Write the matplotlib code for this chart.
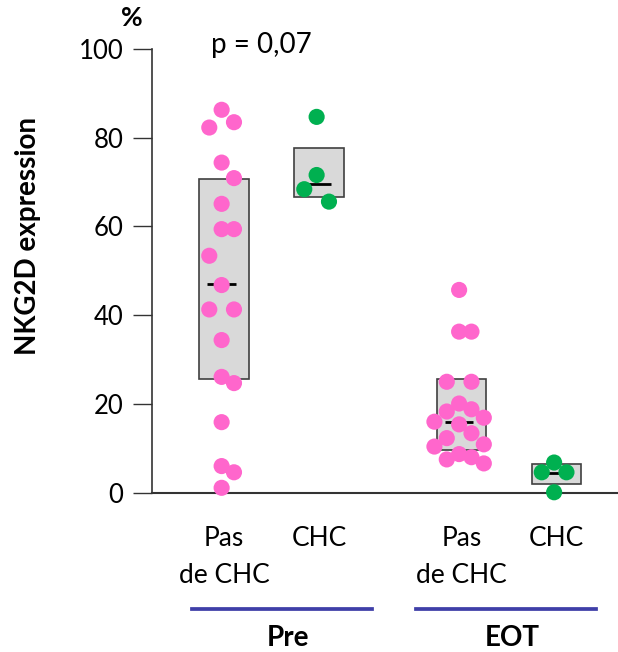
import numpy as np
import matplotlib
matplotlib.use("Agg")
from matplotlib import pyplot as plt
from matplotlib.transforms import blended_transform_factory

plt.rcParams['font.family'] = ['Lato', 'DejaVu Sans']

# values (% NKG2D expression)
pre_pas = [86.3, 82.3, 83.5, 74.4, 70.9, 65.1, 59.4, 59.4, 53.4, 46.8,
           41.3, 41.3, 34.4, 26.1, 24.7, 15.9, 6.0, 4.6, 1.1]
pre_chc = [84.7, 71.6, 68.4, 65.6]
eot_pas = [45.7, 36.3, 36.3, 25.0, 25.0, 20.1, 18.3, 18.8, 16.9, 16.0,
           15.4, 13.4, 12.3, 10.4, 10.9, 7.5, 8.7, 8.0, 6.6]
eot_chc = [6.8, 4.6, 4.6, 0.1]

# dot slot (left / centre / right) used in the hand-arranged scatter
pre_pas_slot = [0, -1, 1, 0, 1, 0, 0, 1, -1, 0, -1, 1, 0, 0, 1, 0, 0, 1, 0]
pre_chc_slot = [0, 0, -1, 1]
eot_pas_slot = [0, 0, 1, -1, 1, 0, -1, 1, 2, -2, 0, 1, -1, -2, 2, -1, 0, 1, 2]
eot_chc_slot = [0, -1, 1, 0]

# boxes: lower edge, median, upper edge
box_low = [25.7, 66.6, 9.6, 2.0]
box_med = [47.0, 69.6, 15.9, 4.4]
box_high = [70.6, 77.8, 25.7, 6.4]

cat_labels = ['Pas\nde CHC', 'CHC', 'Pas\nde CHC', 'CHC']
phases = ['Pre', 'EOT']
y_ticks = [0, 20, 40, 60, 80, 100]

pink = '#FF66CC'
green = '#00B050'
groups = [(pre_pas, pre_pas_slot, pink), (pre_chc, pre_chc_slot, green),
          (eot_pas, eot_pas_slot, pink), (eot_chc, eot_chc_slot, green)]
pos = np.array([0, 1, 2.5, 3.5])
slot_w = 0.13
dot_shift = -0.025

fig = plt.figure(figsize=(6.18, 6.52), dpi=100)
ax = fig.add_axes([152/618, 159.3/652, 465/618, 443.7/652])

ax.bar(pos, np.array(box_high) - np.array(box_low), bottom=box_low, width=0.526,
       color='#D9D9D9', edgecolor='#404040', linewidth=1.2, zorder=1)
for i, (vals, slots, col) in enumerate(groups):
    cx = pos[i] + dot_shift
    ax.plot([cx - 0.15, cx + 0.15], [box_med[i]] * 2, color='black', lw=2, zorder=2,
            solid_capstyle='butt')
    xs = cx + np.array(slots) * slot_w
    ax.scatter(xs, vals, s=135, color=col, edgecolors='none', zorder=3, clip_on=False)

ax.set_xlim(-0.758, 4.137)
ax.set_ylim(0, 100)
ax.set_yticks(y_ticks)
ax.set_yticklabels([str(t) for t in y_ticks], fontsize=18.5)
ax.set_xticks(pos)
ax.set_xticklabels(cat_labels, fontsize=19, linespacing=1.62)
ax.tick_params(axis='x', length=0, pad=24)
ax.tick_params(axis='y', direction='out', length=13.5, width=1, pad=7, color='#333333')

for s in ['top', 'right']:
    ax.spines[s].set_visible(False)
ax.spines['left'].set_color('#333333')
ax.spines['bottom'].set_color('#333333')
ax.spines['left'].set_linewidth(1.2)
ax.spines['bottom'].set_linewidth(1.5)

trans = blended_transform_factory(ax.transData, ax.transAxes)
spans = [(-0.34, 1.56), (2.02, 3.92)]
for name, (a, b) in zip(phases, spans):
    ax.plot([a, b], [-0.262, -0.262], color='#3F3FA8', lw=2.7, transform=trans, clip_on=False)
    ax.text((a + b) / 2 + 0.06, -0.3275, name, transform=trans, ha='center', va='center',
            fontsize=20, fontweight='bold')

fig.text(28/618, 1 - 236/652, 'NKG2D expression', rotation=90, ha='center', va='center',
         fontsize=20, fontweight='bold')
fig.text(131.7/618, 1 - 18/652, '%', ha='center', va='center', fontsize=19, fontweight='bold')
fig.text(261/618, 1 - 45/652, 'p = 0,07', ha='center', va='center', fontsize=20)

fig.savefig('out.png', dpi=100)
